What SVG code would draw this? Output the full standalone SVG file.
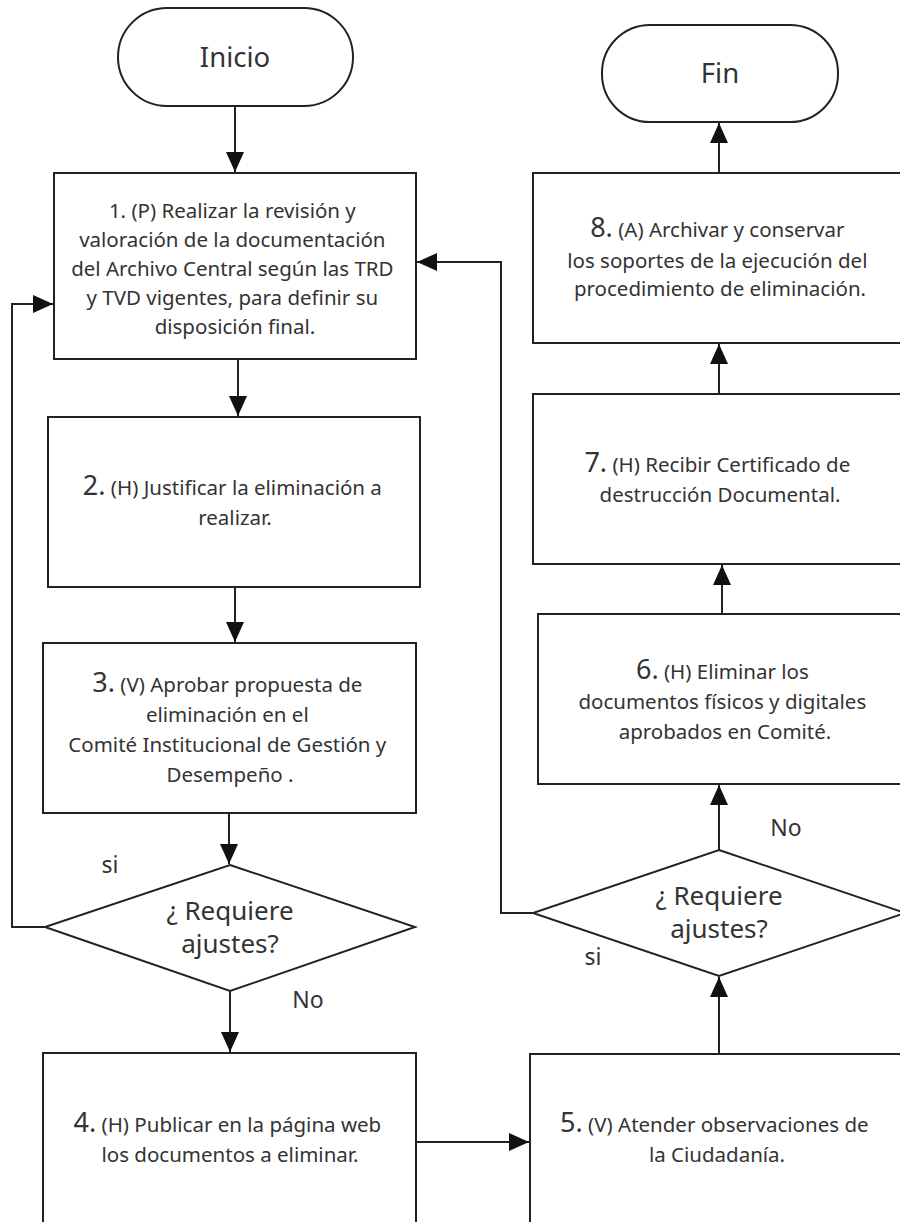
<svg xmlns="http://www.w3.org/2000/svg" width="900" height="1222" viewBox="0 0 900 1222">
<style>
.n{fill:#fff;stroke:#222;stroke-width:2}
.t{font-family:"Noto Sans","Open Sans","DejaVu Sans",sans-serif;font-size:20.5px;fill:#333;text-anchor:middle}
.num{font-size:27px}
.big{font-size:27.5px}
.dt{font-size:26px}
.lbl{font-family:"Noto Sans","Open Sans","DejaVu Sans",sans-serif;font-size:23px;fill:#333;text-anchor:middle}
.c{fill:none;stroke:#222;stroke-width:2}
</style>
<defs>
<marker id="ah" markerUnits="userSpaceOnUse" markerWidth="20" markerHeight="18" refX="20" refY="9" orient="auto">
<path d="M0,0 L20,9 L0,18 z" fill="#111"/>
</marker>
</defs>
<rect width="900" height="1222" fill="#fff"/>
<g id="connectors">
<path class="c" d="M235,106 V172" marker-end="url(#ah)"/>
<path class="c" d="M238,359 V416" marker-end="url(#ah)"/>
<path class="c" d="M235,587 V642" marker-end="url(#ah)"/>
<path class="c" d="M229,813 V864" marker-end="url(#ah)"/>
<path class="c" d="M230,991 V1052" marker-end="url(#ah)"/>
<path class="c" d="M45,927 H12 V304 H53" marker-end="url(#ah)"/>
<path class="c" d="M416,1142 H529" marker-end="url(#ah)"/>
<path class="c" d="M719,1054 V977" marker-end="url(#ah)"/>
<path class="c" d="M719,850 V785" marker-end="url(#ah)"/>
<path class="c" d="M533,913 H501 V262 H417" marker-end="url(#ah)"/>
<path class="c" d="M722,614 V565" marker-end="url(#ah)"/>
<path class="c" d="M719,394 V344" marker-end="url(#ah)"/>
<path class="c" d="M719,173 V123" marker-end="url(#ah)"/>
</g>
<g id="inicio">
<rect class="n" x="118" y="8" width="235" height="98" rx="49"/>
<text class="t big" x="235" y="67">Inicio</text>
</g>
<g id="fin">
<rect class="n" x="602" y="25" width="236" height="97" rx="48"/>
<text class="t big" x="720" y="83">Fin</text>
</g>
<g id="paso1">
<rect class="n" x="54" y="173" width="362" height="186"/>
<text class="t">
<tspan x="235" y="218">1. (P) Realizar la revisión y</tspan>
<tspan x="235" y="247">valoración de la documentación</tspan>
<tspan x="235" y="276">del Archivo Central según las TRD</tspan>
<tspan x="235" y="305">y TVD vigentes, para definir su</tspan>
<tspan x="235" y="334">disposición final.</tspan>
</text>
</g>
<g id="paso2">
<rect class="n" x="48" y="417" width="372" height="170"/>
<text class="t"><tspan x="235" y="495"><tspan class="num">2.</tspan> (H) Justificar la eliminación a</tspan>
<tspan x="235" y="525">realizar.</tspan></text>
</g>
<g id="paso3">
<rect class="n" x="43" y="643" width="373" height="170"/>
<text class="t"><tspan x="230" y="692"><tspan class="num">3.</tspan> (V) Aprobar propuesta de</tspan>
<tspan x="230" y="722">eliminación en el</tspan>
<tspan x="230" y="752">Comité Institucional de Gestión y</tspan>
<tspan x="230" y="782">Desempeño .</tspan></text>
</g>
<g id="decision1">
<polygon class="n" points="230,865 415,927 230,991 45,927"/>
<text class="t dt" x="230" y="920">¿ Requiere</text>
<text class="t dt" x="230" y="953">ajustes?</text>
</g>
<g id="paso4">
<rect class="n" x="43" y="1053" width="373" height="190"/>
<text class="t"><tspan x="230" y="1132"><tspan class="num">4.</tspan> (H) Publicar en la página web</tspan>
<tspan x="230" y="1162">los documentos a eliminar.</tspan></text>
</g>
<g id="paso5">
<rect class="n" x="530" y="1054" width="390" height="190"/>
<text class="t"><tspan x="717" y="1132"><tspan class="num">5.</tspan> (V) Atender observaciones de</tspan>
<tspan x="717" y="1162">la Ciudadanía.</tspan></text>
</g>
<g id="decision2">
<polygon class="n" points="719,850 905,913 719,976 533,913"/>
<text class="t dt" x="719" y="905">¿ Requiere</text>
<text class="t dt" x="719" y="938">ajustes?</text>
</g>
<g id="paso6">
<rect class="n" x="538" y="614" width="382" height="170"/>
<text class="t"><tspan x="725" y="679"><tspan class="num">6.</tspan> (H) Eliminar los</tspan>
<tspan x="725" y="709">documentos físicos y digitales</tspan>
<tspan x="725" y="739">aprobados en Comité.</tspan></text>
</g>
<g id="paso7">
<rect class="n" x="533" y="394" width="387" height="170"/>
<text class="t"><tspan x="720" y="472"><tspan class="num">7.</tspan> (H) Recibir Certificado de</tspan>
<tspan x="720" y="502">destrucción Documental.</tspan></text>
</g>
<g id="paso8">
<rect class="n" x="533" y="173" width="387" height="170"/>
<text class="t"><tspan x="720" y="237"><tspan class="num">8.</tspan> (A) Archivar y conservar</tspan>
<tspan x="720" y="268">los soportes de la ejecución del</tspan>
<tspan x="720" y="296">procedimiento de eliminación.</tspan></text>
</g>
<g id="labels">
<text class="lbl" x="110" y="873">si</text>
<text class="lbl" x="308" y="1008">No</text>
<text class="lbl" x="593" y="965">si</text>
<text class="lbl" x="786" y="836">No</text>
</g>
</svg>
